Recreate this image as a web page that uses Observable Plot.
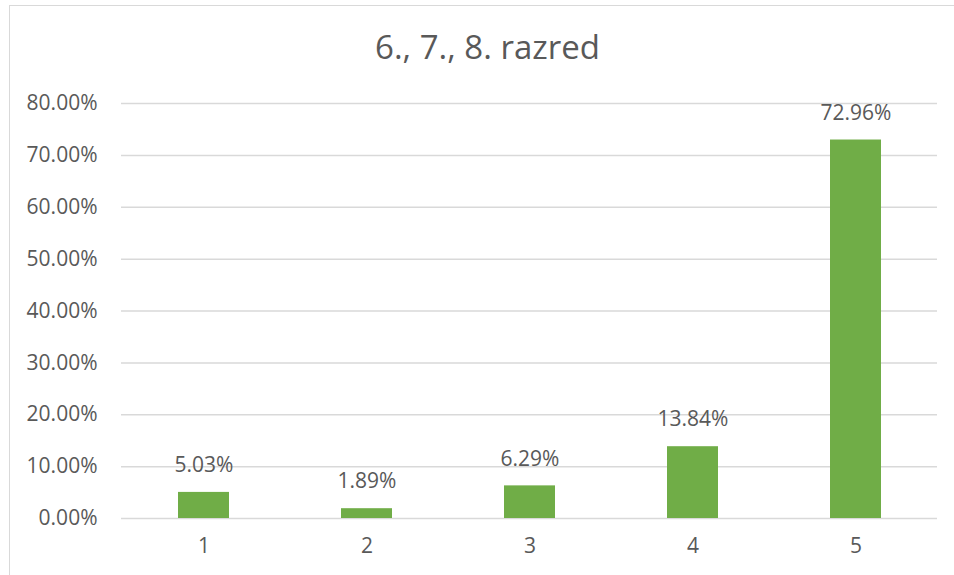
<!DOCTYPE html>
<html>
<head>
<meta charset="utf-8">
<script src="https://cdn.jsdelivr.net/npm/d3@7"></script>
<script src="https://cdn.jsdelivr.net/npm/@observablehq/plot@0.6"></script>
<style>
  html, body { margin: 0; padding: 0; background: #fff; overflow: hidden; }
  #wrap { position: relative; width: 954px; height: 575px; overflow: hidden; font-family: "Open Sans", sans-serif; }
  #frame { position: absolute; left: 9px; top: 5px; width: 2000px; height: 2000px; border: 1.5px solid #d9d9d9; box-sizing: border-box; }
  #title { position: absolute; left: 9px; top: 31px; width: 957px; text-align: center; font-size: 33px; line-height: 32px; color: #595959; white-space: nowrap; }
  #chart { position: absolute; left: 0; top: 0; }
</style>
</head>
<body>
<div id="wrap">
  <div id="frame"></div>
  <div id="chart"></div>
  <div id="title">6., 7., 8. razred</div>
</div>
<script>
const titleText = "6., 7., 8. razred";
const categories = ["1", "2", "3", "4", "5"];
const values = [0.0503, 0.0189, 0.0629, 0.1384, 0.7296];
const valueLabels = ["5.03%", "1.89%", "6.29%", "13.84%", "72.96%"];
const yTicks = [0, 0.1, 0.2, 0.3, 0.4, 0.5, 0.6, 0.7, 0.8];

document.getElementById("title").textContent = titleText;

const data = categories.map((c, i) => ({cat: c, value: values[i], label: valueLabels[i]}));

const chart = Plot.plot({
  width: 954,
  height: 575,
  marginLeft: 121,
  marginRight: 17,
  marginTop: 103,
  marginBottom: 57,
  style: {fontFamily: "'Open Sans', sans-serif", fontSize: "21px", color: "#595959", background: "transparent", overflow: "visible"},
  x: {domain: categories, paddingInner: 0.69, paddingOuter: 0.345, label: null, tickSize: 0, tickPadding: 20},
  y: {domain: [0, 0.8], ticks: yTicks, tickFormat: d => (d * 100).toFixed(2) + "%", label: null, tickSize: 0, tickPadding: 24},
  marks: [
    Plot.ruleY(yTicks, {stroke: "#d9d9d9", strokeWidth: 1.5}),
    Plot.barY(data, {x: "cat", y: "value", fill: "#70AD47"}),
    Plot.text(data, {x: "cat", y: "value", text: "label", dy: -27, fill: "#595959", fontSize: 21})
  ]
});
document.getElementById("chart").appendChild(chart);
</script>
</body>
</html>
